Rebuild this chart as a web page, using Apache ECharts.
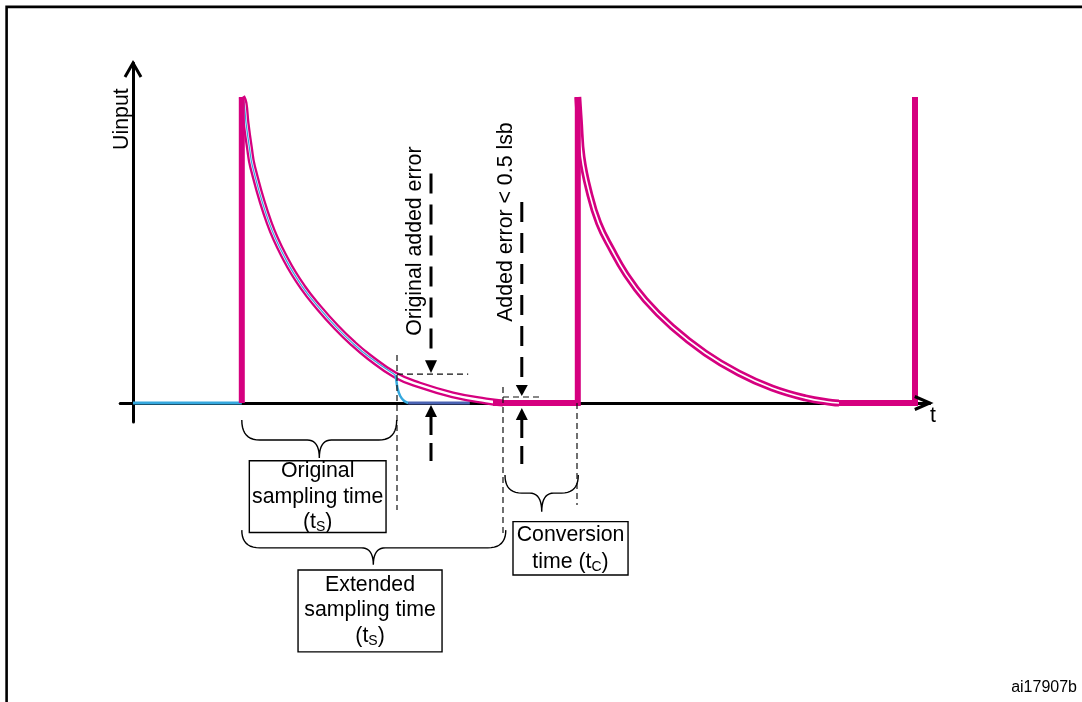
<!DOCTYPE html>
<html><head><meta charset="utf-8">
<script src="https://cdn.jsdelivr.net/npm/echarts@6/dist/echarts.min.js"></script>
<style>html,body{margin:0;padding:0;background:#fff}#c{width:1082px;height:702px}</style>
</head><body><div id="c"></div><script>
// ---- data (time units, voltage units) ----
const pulseTimes = [13.6, 55.6, 97.75];          // sampling start edges
const pulseTop = 90;                              // input step height
const holdStarts = [45.0, 88.25];                 // where hold (flat) begins
const curve1T = [13.6, 13.88, 14.13, 14.54, 14.96, 17.04, 19.13, 21.21, 23.29, 25.38, 27.46, 29.54, 32.79, 35.79, 39.96, 44.13, 46.25];
const curve1V = [90, 88.2, 82.4, 75.3, 69.4, 52.9, 42.1, 34.1, 27.9, 22.4, 17.6, 13.5, 8.2, 5.3, 2.4, 0.6, 0];
const curve2T = [55.6, 55.79, 56.13, 56.96, 58.21, 59.88, 61.54, 64.04, 67.38, 71.54, 75.71, 79.88, 84.04, 87.38, 88.25];
const curve2V = [90, 83.2, 72.4, 62.6, 52.9, 45.0, 38.2, 30.3, 22.4, 14.7, 8.8, 4.4, 1.5, 0.15, 0];
const blueIdleT = [0, 13.6];
const blueCurveCount = 13;                        // original sampling ends at curve1 index 12
const blueDropT = [32.79, 32.875, 33.06, 33.4, 33.9, 34.4];
const blueDropV = [8.2, 7.35, 4.4, 2.06, 0.6, 0];
const blueHoldT = [34.4, 42.1];

// ---- annotation layout (in chart units) ----
const thinVLines = [[33.0, 14.1, -31.5], [46.25, 4.7, -38.8], [55.5, 0, -30.0]];
const thinHLines = [[8.5, 33.0, 41.9], [1.76, 46.25, 51.1]];
const errArrows = [
  [37.25, 67.5, 12.6, 8.8, -0.6, -4.1, -17.6],
  [48.6, 59.1, 5.3, 2.06, -1.5, -5.0, -18.8]
];
const braces = [
  [13.6, 32.96, 23.29, -5.0, -10.9, -16.2],
  [13.6, 46.6, 30.04, -37.4, -42.6, -47.6],
  [46.5, 55.66, 51.09, -21.2, -26.5, -32.0]
];
const boxes = [
  {t: [14.54, 31.63], v: [-17.0, -38.1], lines: [['Original', -19.9], ['sampling time', -27.56], ['{a|(t}{b|S}{a|)}', -34.9]]},
  {t: [20.63, 38.63], v: [-49.1, -73.2], lines: [['Extended', -53.5], ['sampling time', -60.9], ['{a|(t}{b|S}{a|)}', -68.7]]},
  {t: [47.5, 61.88], v: [-34.9, -50.6], lines: [['Conversion', -38.8], ['{a|time (t}{b|C}{a|)}', -46.7]]}
];
const rotLabels = [['Original added error', 35.25, 47.6], ['Added error < 0.5 lsb', 46.7, 53.2], ['Uinput', -1.4, 83.5]];
const tLabel = ['t', 100, -3.8];
const refCode = 'ai17907b';

const MAG = '#d5007f', LBLUE = '#35a8de', DBLUE = '#4a63b3';
const FAM = '"Liberation Sans", Arial, sans-serif';
const FS = 21.3;

const chart = echarts.init(document.getElementById('c'), null, {renderer: 'canvas', width: 1082, height: 702});

function zipTV(T, V) { return T.map((t, i) => [t, V[i]]); }
function ln(data, color, width, smooth, z) {
  return {type: 'line', data: data, showSymbol: false, symbol: 'none', silent: true, clip: false,
    smooth: smooth || false, z: z || 2, animation: false,
    lineStyle: {color: color, width: width, cap: 'butt', join: 'miter'}};
}
const c1 = zipTV(curve1T, curve1V), c2 = zipTV(curve2T, curve2V);
const SM = 0.45;
const series = [
  ln(blueIdleT.map(t => [t, 0]), LBLUE, 3, false, 2),
  ln(blueHoldT.map(t => [t, 0]), DBLUE, 3, false, 2),
  ln(c1, MAG, 7, SM, 3),
  ln(c1, '#ffffff', 2.4, SM, 3),
  ln(c1.slice(0, blueCurveCount), LBLUE, 1.2, SM, 3),
  ln(zipTV(blueDropT, blueDropV), LBLUE, 2.5, 0.3, 3),
  ln(c2, MAG, 7, SM, 3),
  ln(c2, '#ffffff', 1.6, SM, 3),
  ln([[pulseTimes[0], 0], [pulseTimes[0], pulseTop]], MAG, 6, false, 4),
  ln([[holdStarts[0], 0], [pulseTimes[1], 0], [pulseTimes[1], pulseTop]], MAG, 6, false, 4),
  ln([[holdStarts[1], 0], [pulseTimes[2], 0], [pulseTimes[2], pulseTop]], MAG, 6, false, 4)
];

chart.setOption({
  animation: false,
  grid: {left: 120.2, right: 152.2, top: 63, bottom: 279.96, containLabel: false},
  xAxis: {type: 'value', min: -1.6, max: 99.6, axisLine: {show: true, onZero: true, lineStyle: {color: '#000', width: 3}},
    axisTick: {show: false}, axisLabel: {show: false}, splitLine: {show: false}},
  yAxis: {type: 'value', min: -5.6, max: 100, axisLine: {show: true, onZero: true, lineStyle: {color: '#000', width: 3}},
    axisTick: {show: false}, axisLabel: {show: false}, splitLine: {show: false}},
  series: series
});

function P(t, v) { return chart.convertToPixel({gridIndex: 0}, [t, v]); }
function quad(p0, c, p1, n, out) {
  for (let i = 1; i <= n; i++) {
    const s = i / n, u = 1 - s;
    out.push([u * u * p0[0] + 2 * u * s * c[0] + s * s * p1[0], u * u * p0[1] + 2 * u * s * c[1] + s * s * p1[1]]);
  }
}
const g = [];
g.push({type: 'rect', silent: true, shape: {x: 6.6, y: 6.9, width: 1200, height: 900}, style: {fill: 'none', stroke: '#000', lineWidth: 2.6}, z: 1});
// axis arrowheads
const yt = P(0, 100), xt = P(99.6, 0);
g.push({type: 'polyline', silent: true, shape: {points: [[yt[0] - 8, yt[1] + 14], [yt[0], yt[1]], [yt[0] + 8, yt[1] + 14]]}, style: {stroke: '#000', lineWidth: 3, fill: 'none'}, z: 5});
g.push({type: 'polyline', silent: true, shape: {points: [[xt[0] - 15, xt[1] - 6.5], [xt[0], xt[1]], [xt[0] - 15, xt[1] + 6.5]]}, style: {stroke: '#000', lineWidth: 3, fill: 'none'}, z: 5});
// thin dashed guides
const thin = {stroke: '#111', lineWidth: 1.2, lineDash: [6, 4], fill: 'none'};
thinVLines.forEach(d => { const a = P(d[0], d[1]), b = P(d[0], d[2]); g.push({type: 'line', silent: true, shape: {x1: a[0], y1: a[1], x2: b[0], y2: b[1]}, style: thin, z: 5}); });
thinHLines.forEach(d => { const a = P(d[1], d[0]), b = P(d[2], d[0]); g.push({type: 'line', silent: true, shape: {x1: a[0], y1: a[1], x2: b[0], y2: b[1]}, style: thin, z: 5}); });
// error arrows
errArrows.forEach(d => {
  const t = d[0];
  const top = P(t, d[1]), hb = P(t, d[2]), tip = P(t, d[3]), tipL = P(t, d[4]), hbL = P(t, d[5]), end = P(t, d[6]);
  const x = top[0];
  g.push({type: 'line', silent: true, shape: {x1: x, y1: top[1], x2: x, y2: hb[1] - 2}, style: {stroke: '#000', lineWidth: 3, lineDash: [20, 11], fill: 'none'}, z: 5});
  g.push({type: 'polygon', silent: true, shape: {points: [[x - 6, hb[1]], [x + 6, hb[1]], [x, tip[1]]]}, style: {fill: '#000'}, z: 5});
  g.push({type: 'polygon', silent: true, shape: {points: [[x - 6, hbL[1]], [x + 6, hbL[1]], [x, tipL[1]]]}, style: {fill: '#000'}, z: 5});
  g.push({type: 'line', silent: true, shape: {x1: x, y1: hbL[1], x2: x, y2: end[1]}, style: {stroke: '#000', lineWidth: 3, lineDash: [18, 8], fill: 'none'}, z: 5});
});
// braces
braces.forEach(d => {
  const x1 = P(d[0], 0)[0], x2 = P(d[1], 0)[0], xc = P(d[2], 0)[0];
  const y0 = P(0, d[3])[1], y1 = P(0, d[4])[1], y2 = P(0, d[5])[1];
  const rc = Math.min(18, (xc - x1) / 2.2), rs = 12;
  const pts = [[x1, y0]];
  quad([x1, y0], [x1, y1], [x1 + rc, y1], 10, pts);
  pts.push([xc - rs, y1]);
  quad([xc - rs, y1], [xc, y1], [xc, y2], 10, pts);
  quad([xc, y2], [xc, y1], [xc + rs, y1], 10, pts);
  pts.push([x2 - rc, y1]);
  quad([x2 - rc, y1], [x2, y1], [x2, y0], 10, pts);
  g.push({type: 'polyline', silent: true, shape: {points: pts}, style: {stroke: '#000', lineWidth: 1.4, fill: 'none'}, z: 5});
});
// boxes
const richStyle = {a: {fontSize: FS, fontFamily: FAM, lineHeight: 24, fill: '#000'}, b: {fontSize: 14, fontFamily: FAM, lineHeight: 14, verticalAlign: 'bottom', fill: '#000'}};
boxes.forEach(bx => {
  const a = P(bx.t[0], bx.v[0]), b = P(bx.t[1], bx.v[1]);
  g.push({type: 'rect', silent: true, shape: {x: a[0], y: a[1], width: b[0] - a[0], height: b[1] - a[1]}, style: {fill: '#fff', stroke: '#000', lineWidth: 1.4}, z: 5});
  const cx = (a[0] + b[0]) / 2;
  bx.lines.forEach(l => {
    const y = P(0, l[1])[1];
    g.push({type: 'text', silent: true, x: cx, y: y, z: 6,
      style: {text: l[0], fontSize: FS, fontFamily: FAM, fill: '#000', align: 'center', verticalAlign: 'middle', textAlign: 'center', textVerticalAlign: 'middle', rich: richStyle}});
  });
});
// rotated labels
rotLabels.forEach(l => {
  const p = P(l[1], l[2]);
  g.push({type: 'text', silent: true, x: p[0], y: p[1], rotation: Math.PI / 2, z: 6,
    style: {text: l[0], fontSize: FS, fontFamily: FAM, fill: '#000', align: 'center', verticalAlign: 'middle', textAlign: 'center', textVerticalAlign: 'middle'}});
});
const tp = P(tLabel[1], tLabel[2]);
g.push({type: 'text', silent: true, x: tp[0], y: tp[1], z: 6,
  style: {text: tLabel[0], fontSize: FS, fontFamily: FAM, fill: '#000', align: 'center', verticalAlign: 'middle', textAlign: 'center', textVerticalAlign: 'middle'}});
g.push({type: 'text', silent: true, x: 1077, y: 688, z: 6,
  style: {text: refCode, fontSize: 16, fontFamily: FAM, fill: '#000', align: 'right', verticalAlign: 'middle', textAlign: 'right', textVerticalAlign: 'middle'}});

chart.setOption({graphic: {elements: g}});
</script></body></html>
